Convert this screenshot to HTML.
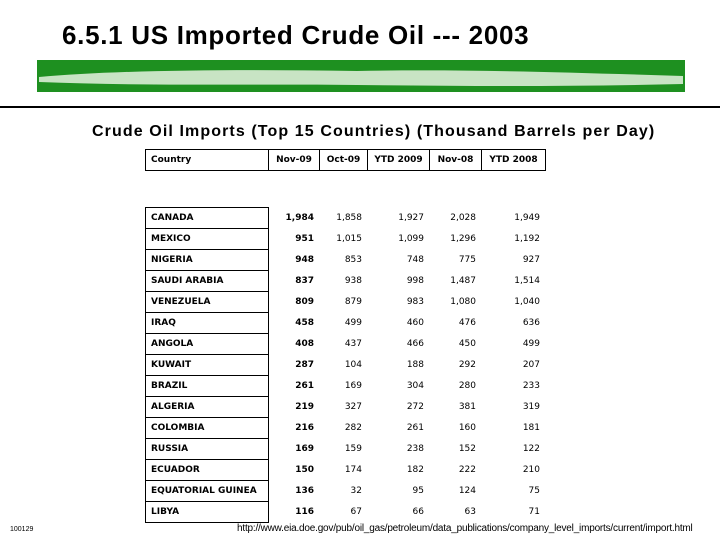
<!DOCTYPE html>
<html><head><meta charset="utf-8"><style>
body{margin:0;width:720px;height:540px;background:#fff;position:relative;overflow:hidden;font-family:"DejaVu Sans",sans-serif}
.a{position:absolute;white-space:nowrap}
#title{left:62px;top:20px;font:bold 26px "Liberation Sans",sans-serif;color:#000;letter-spacing:0.7px}
#sub{left:92px;top:123px;font:bold 16px "Liberation Sans",sans-serif;letter-spacing:1.1px}
.hdr{position:absolute;top:149px;height:22px;border:1px solid #000;box-sizing:border-box;font:bold 9px "DejaVu Sans",sans-serif;line-height:20px}
.cell{position:absolute;left:145px;width:124px;height:22px;border:1px solid #000;box-sizing:border-box;font:bold 9px "DejaVu Sans",sans-serif;line-height:20px;padding-left:5px}
.num{position:absolute;font:9px "DejaVu Sans",sans-serif;text-align:right;width:60px;line-height:20px;height:20px}
.b{font-weight:bold}
</style></head><body>
<div class="a" id="title">6.5.1 US Imported Crude Oil --- 2003</div>
<svg class="a" style="left:37px;top:60px" width="648" height="32">
<rect width="648" height="32" fill="#1e9020"/>
<path d="M2,17 C80,10 200,9 320,11 C420,9 520,12 646,16 L646,24 C520,27 420,26 320,25 C200,24 100,26 2,22Z" fill="#c8e4c4"/>
</svg>
<div class="a" style="left:0;top:106px;width:720px;height:2px;background:#000"></div>
<div class="a" id="sub">Crude Oil Imports (Top 15 Countries) (Thousand Barrels per Day)</div>
<div id="tbl"></div>
<div class="a" style="left:10px;top:526px;font:7px 'Liberation Sans',sans-serif">100129</div>
<div class="a" style="left:237px;top:523px;font:10px 'Liberation Sans',sans-serif;letter-spacing:-0.2px">http://www.eia.doe.gov/pub/oil_gas/petroleum/data_publications/company_level_imports/current/import.html</div>
<script>
const headers=["Country","Nov-09","Oct-09","YTD 2009","Nov-08","YTD 2008"];
const countries=["CANADA","MEXICO","NIGERIA","SAUDI ARABIA","VENEZUELA","IRAQ","ANGOLA","KUWAIT","BRAZIL","ALGERIA","COLOMBIA","RUSSIA","ECUADOR","EQUATORIAL GUINEA","LIBYA"];
const nov09=["1,984","951","948","837","809","458","408","287","261","219","216","169","150","136","116"];
const oct09=["1,858","1,015","853","938","879","499","437","104","169","327","282","159","174","32","67"];
const ytd09=["1,927","1,099","748","998","983","460","466","188","304","272","261","238","182","95","66"];
const nov08=["2,028","1,296","775","1,487","1,080","476","450","292","280","381","160","152","222","124","63"];
const ytd08=["1,949","1,192","927","1,514","1,040","636","499","207","233","319","181","122","210","75","71"];
const t=document.getElementById('tbl');
const hx=[145,269,320,368,430,482,546];
headers.forEach((h,i)=>{const d=document.createElement('div');d.className='hdr';
d.style.left=(hx[i]-(i?1:0))+'px';d.style.width=(hx[i+1]-hx[i]+(i?1:0))+'px';
d.style.textAlign=i?'center':'left';if(!i)d.style.paddingLeft='5px';d.textContent=h;

t.appendChild(d);});
const cols=[nov09,oct09,ytd09,nov08,ytd08];const rx=[314,362,424,476,540];
countries.forEach((c,r)=>{
const d=document.createElement('div');d.className='cell';d.style.top=(207+r*21)+'px';d.textContent=c;

t.appendChild(d);
cols.forEach((col,k)=>{const n=document.createElement('div');n.className='num'+(k==0?' b':'');
n.style.left=(rx[k]-60)+'px';n.style.top=(208+r*21)+'px';n.textContent=col[r];

t.appendChild(n);});});
</script>
</body></html>
